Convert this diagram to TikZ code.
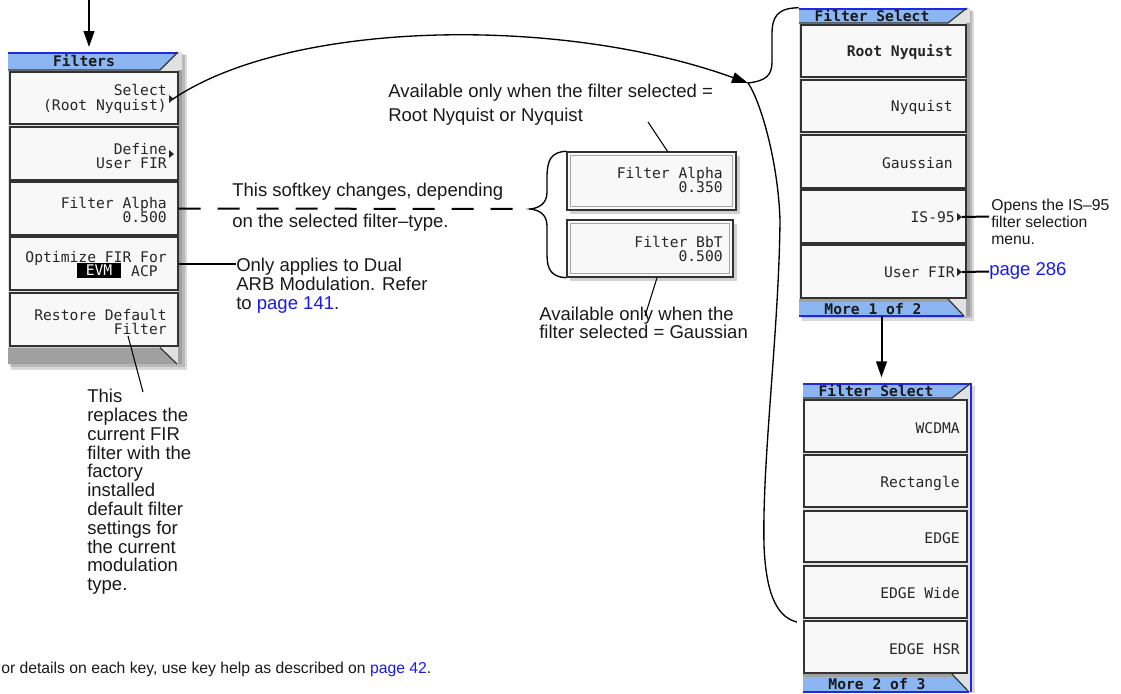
\documentclass[tikz,border=0pt]{standalone}
\usepackage{fontspec}
\setmainfont{Liberation Sans}
\newfontfamily\keyfont{DejaVu Sans Mono}
\usetikzlibrary{arrows.meta,fit,calc}
\definecolor{hdrblue}{RGB}{140,182,242}
\definecolor{edgeblue}{RGB}{30,40,230}
\definecolor{keyfill}{RGB}{248,248,248}
\definecolor{keyline}{RGB}{50,50,50}
\definecolor{panelgray}{RGB}{160,160,160}
\definecolor{panelbg}{RGB}{225,225,225}
\definecolor{linkblue}{RGB}{25,25,235}
\begin{document}
\begin{tikzpicture}[x=0.75pt,y=-0.75pt,
  softkey/.style={draw=keyline, line width=1.1pt, fill=keyfill, inner sep=0pt},
  keytxt/.style={font=\keyfont\fontsize{11}{10.8}\selectfont, inner sep=0pt, align=right, anchor=east, text=black!85},
  hdrtxt/.style={font=\keyfont\bfseries\fontsize{11}{12}\selectfont, inner sep=0pt, text=black!90},
  note/.style={inner sep=0pt, align=left, anchor=north west, text=black!90},
  leader/.style={line width=1.5pt},
  thinline/.style={line width=0.8pt},
  curve/.style={line width=1pt},
  arrowtip/.style={-{Triangle[length=12pt,width=8pt]}},
  keytri/.style={fill=black!85},
]
\useasboundingbox (0,0) rectangle (1121,693);

% ================= Filters panel =================
\fill[black,opacity=0.15] (11,55) rectangle (187,370);
\fill[black,opacity=0.15] (10,54) rectangle (185,367);
\fill[panelbg] (8,52) rectangle (182,364);
\fill[panelgray] (178,70) rectangle (182,364);
\fill[hdrblue] (8,52) -- (178,52) -- (160,70) -- (8,70) -- cycle;
\draw[edgeblue, line width=1.5pt] (8,52.5) -- (178,52.5);
\draw[keyline, line width=0.9pt] (8,70) -- (160,70) -- (178,52);
\node[fit={(8,52) (178,70)}, inner sep=0pt] (fhdr) {};
\node[hdrtxt] at (84,61) {Filters};

\node[softkey, fit={(10,72) (178,124)}] (f1) {};
\node[softkey, fit={(10,127) (178,180)}] (f2) {};
\node[softkey, fit={(10,182) (178,235)}] (f3) {};
\node[softkey, fit={(10,237) (178,290)}] (f4) {};
\node[softkey, fit={(10,293) (178,346)}] (f5) {};
\fill[panelgray] (8,347.5) -- (160,347.5) -- (177,364) -- (8,364) -- cycle;
\draw[keyline, line width=0.9pt] (160,347.5) -- (177,364);

\node[keytxt] at (167,99) {Select\\(Root Nyquist)};
\fill[keytri] (169,95) -- (174,99) -- (169,103) -- cycle;
\coordinate (f1tri) at (173,99);
\node[keytxt] at (167,156) {Define\\User FIR};
\fill[keytri] (169,150) -- (174,154) -- (169,158) -- cycle;
\node[keytxt] at (167,210) {Filter Alpha\\0.500};
\node[keytxt] at (167,258) {Optimize FIR For};
\node[fill=black, text=white, font=\keyfont\fontsize{11}{12}\selectfont, inner sep=0pt,
      minimum width=33pt, minimum height=11.25pt] (evm) at (99,270) {EVM};
\node[keytxt] (acp) at (158,271) {ACP};
\node[keytxt] at (167,322) {Restore Default\\Filter};

% ================= Filter Select (1 of 2) =================
\fill[black,opacity=0.15] (802,11) rectangle (974,321);
\fill[black,opacity=0.15] (801,10) rectangle (972,318);
\fill[panelbg] (799,8) rectangle (970,316);
\fill[panelgray] (966,23) rectangle (970,316);
\fill[hdrblue] (799,8) -- (967,8) -- (948,23) -- (799,23) -- cycle;
\draw[edgeblue, line width=1.5pt] (799,8.5) -- (967,8.5);
\draw[keyline, line width=0.9pt] (799,23) -- (948,23) -- (967,8);
\node[fit={(799,8) (967,23)}, inner sep=0pt] (s1hdr) {};
\node[hdrtxt] at (872,15.5) {Filter Select};

\node[softkey, fit={(801,25) (966,77)}] (s1) {};
\node[softkey, fit={(801,80) (966,132)}] (s2) {};
\node[softkey, fit={(801,135) (966,188)}] (s3) {};
\node[softkey, fit={(801,190) (966,243)}] (s4) {};
\node[softkey, fit={(801,245) (966,298)}] (s5) {};
\fill[panelgray] (799,299) -- (948,299) -- (964,316) -- (799,316) -- cycle;
\fill[hdrblue] (799,302) -- (951,302) -- (964,316) -- (799,316) -- cycle;
\draw[keyline, line width=0.9pt] (948,299) -- (964,316);
\draw[edgeblue, line width=1.5pt] (799,315.5) -- (964,315.5);
\node[fit={(799,302) (964,316)}, inner sep=0pt] (s1foot) {};
\node[hdrtxt] at (873,309) {More 1 of 2};

\node[keytxt, font=\keyfont\bfseries\fontsize{11}{12}\selectfont] at (953,52) {Root Nyquist};
\node[keytxt] at (953,107) {Nyquist};
\node[keytxt] at (953,163) {Gaussian};
\node[keytxt] at (955,217) {IS-95};
\fill[keytri] (957,213) -- (962,217) -- (957,221) -- cycle;
\node[keytxt] at (955,272) {User FIR};
\fill[keytri] (957,268) -- (962,272) -- (957,276) -- cycle;

% ================= Filter Select (2 of 3) =================
\fill[black,opacity=0.15] (806,386) rectangle (975,693);
\fill[panelbg] (803,383) rectangle (971,692);
\fill[hdrblue] (803,383) -- (971,383) -- (952,398) -- (803,398) -- cycle;
\draw[edgeblue, line width=1.5pt] (803,383.5) -- (971,383.5);
\draw[keyline, line width=0.9pt] (803,398) -- (952,398) -- (971,383);
\node[fit={(803,383) (971,398)}, inner sep=0pt] (s2hdr) {};
\node[hdrtxt] at (876,390.5) {Filter Select};

\node[softkey, fit={(804,400) (967,452)}] (t1) {};
\node[softkey, fit={(804,455) (967,507)}] (t2) {};
\node[softkey, fit={(804,511) (967,562)}] (t3) {};
\node[softkey, fit={(804,566) (967,618)}] (t4) {};
\node[softkey, fit={(804,621) (967,673)}] (t5) {};
\fill[panelgray] (803,674) -- (952,674) -- (969,692) -- (803,692) -- cycle;
\fill[hdrblue] (803,677) -- (955,677) -- (969,692) -- (803,692) -- cycle;
\draw[keyline, line width=0.9pt] (952,674) -- (969,692);
\draw[edgeblue, line width=1.5pt] (803,691.5) -- (969,691.5);
\draw[edgeblue, line width=1.5pt] (970.5,383) -- (970.5,692);
\node[hdrtxt] at (877,684.5) {More 2 of 3};

\node[keytxt] at (960,428) {WCDMA};
\node[keytxt] at (960,483) {Rectangle};
\node[keytxt] at (960,538) {EDGE};
\node[keytxt] at (960,593) {EDGE Wide};
\node[keytxt] at (960,649) {EDGE HSR};

% ================= middle softkeys =================
\fill[black,opacity=0.18] (570,156) rectangle (740,214);
\fill[black,opacity=0.18] (570,224) rectangle (737,281);
\node[softkey, fit={(567,152) (736,210)}] (boxA) {};
\draw[gray!70, line width=0.8pt] (570.5,155.5) rectangle (732.5,206.5);
\draw[edgeblue, line width=1.2pt] (735.5,152) -- (735.5,210);
\node[softkey, fit={(567,220) (733,277)}] (boxB) {};
\draw[gray!70, line width=0.8pt] (570.5,223.5) rectangle (729.5,273.5);
\node[keytxt] at (723,180) {Filter Alpha\\0.350};
\node[keytxt] at (723,249) {Filter BbT\\0.500};

% ================= notes =================
\node[note, font=\fontsize{13.9}{14.1}\selectfont] (replaces) at (87,389)
  {This\\replaces the\\current FIR\\filter with the\\factory\\installed\\default filter\\settings for\\the current\\modulation\\type.};
\node[note, font=\fontsize{13.9}{23.8}\selectfont] (softnote) at (232,182.5)
  {This softkey changes, depending\\on the selected filter–type.};
\node[note, font=\fontsize{13.9}{14.1}\selectfont] (onlytxt) at (236,258)
  {Only applies to Dual\\ARB Modulation. Refer\\to \textcolor{linkblue}{page 141}.};
\node[note, font=\fontsize{13.9}{17.5}\selectfont] (availA) at (388,84)
  {Available only when the filter selected =\\Root Nyquist or Nyquist};
\node[note, font=\fontsize{13.9}{13.5}\selectfont] (availB) at (539,307)
  {Available only when the\\filter selected = Gaussian};
\node[note, font=\fontsize{11.8}{12.5}\selectfont] (isnote) at (991,199)
  {Opens the IS–95\\filter selection\\menu.};
\node[inner sep=0pt, anchor=base west, font=\fontsize{13.9}{14.1}\selectfont, text=linkblue] (p286) at (989,275) {page 286};
\node[inner sep=0pt, anchor=base west, font=\fontsize{11.8}{12.5}\selectfont, text=black!90] (footnote) at (1,673)
  {or details on each key, use key help as described on \textcolor{linkblue}{page 42}.};

% ================= connectors =================
\coordinate (intop) at (89,0);
\draw[line width=1.5pt, arrowtip, shorten >=3.5pt] (intop) -- (intop |- fhdr.north);

\coordinate (bracetip) at (748,83);
\draw[curve, arrowtip] (f1tri) .. controls (290,20) and (560,15) .. (bracetip);

% right brace
\coordinate (braceend) at (797,622);
\draw[curve] (s1hdr.north west) .. controls (776,8) and (772,18) .. (772,35)
  -- (772,62) .. controls (772,76) and (765,81) .. (bracetip)
  .. controls (760,100) and (778,160) .. (780,220)
  .. controls (779,330) and (762,460) .. (764,545)
  .. controls (766,600) and (780,618) .. (braceend);

% middle brace
\coordinate (midtip) at (530,209);
\draw[curve] (boxA.north west) .. controls (551,152) and (547,160) .. (547,178)
  -- (547,192) .. controls (547,203) and (540,208) .. (midtip)
  .. controls (540,210) and (547,215) .. (547,226)
  -- (547,255) .. controls (547,270) and (552,277) .. (boxB.south west);

\draw[leader, dash pattern=on 16.5pt off 12.75pt] (f3.east) -- (midtip);
\draw[leader] (f4.east) -- (f4.east -| onlytxt.west);

\coordinate (restA) at (128,336);
\coordinate (restB) at (143,392);
\draw[thinline] (restA) -- (restB);

\coordinate (availAend) at (648,122);
\draw[thinline] (availAend) -- (668,152);
\coordinate (availBend) at (645,316);
\draw[thinline] (boxB.south -| 657,0) -- (availBend);

\draw[leader] (962,217) -- (s4.east -| p286.west);
\draw[leader] (962,272) -- (s5.east -| p286.west);

\draw[line width=1.5pt, arrowtip, shorten >=4pt] (s1foot.south) -- (s1foot.south |- s2hdr.north);
\end{tikzpicture}
\end{document}
